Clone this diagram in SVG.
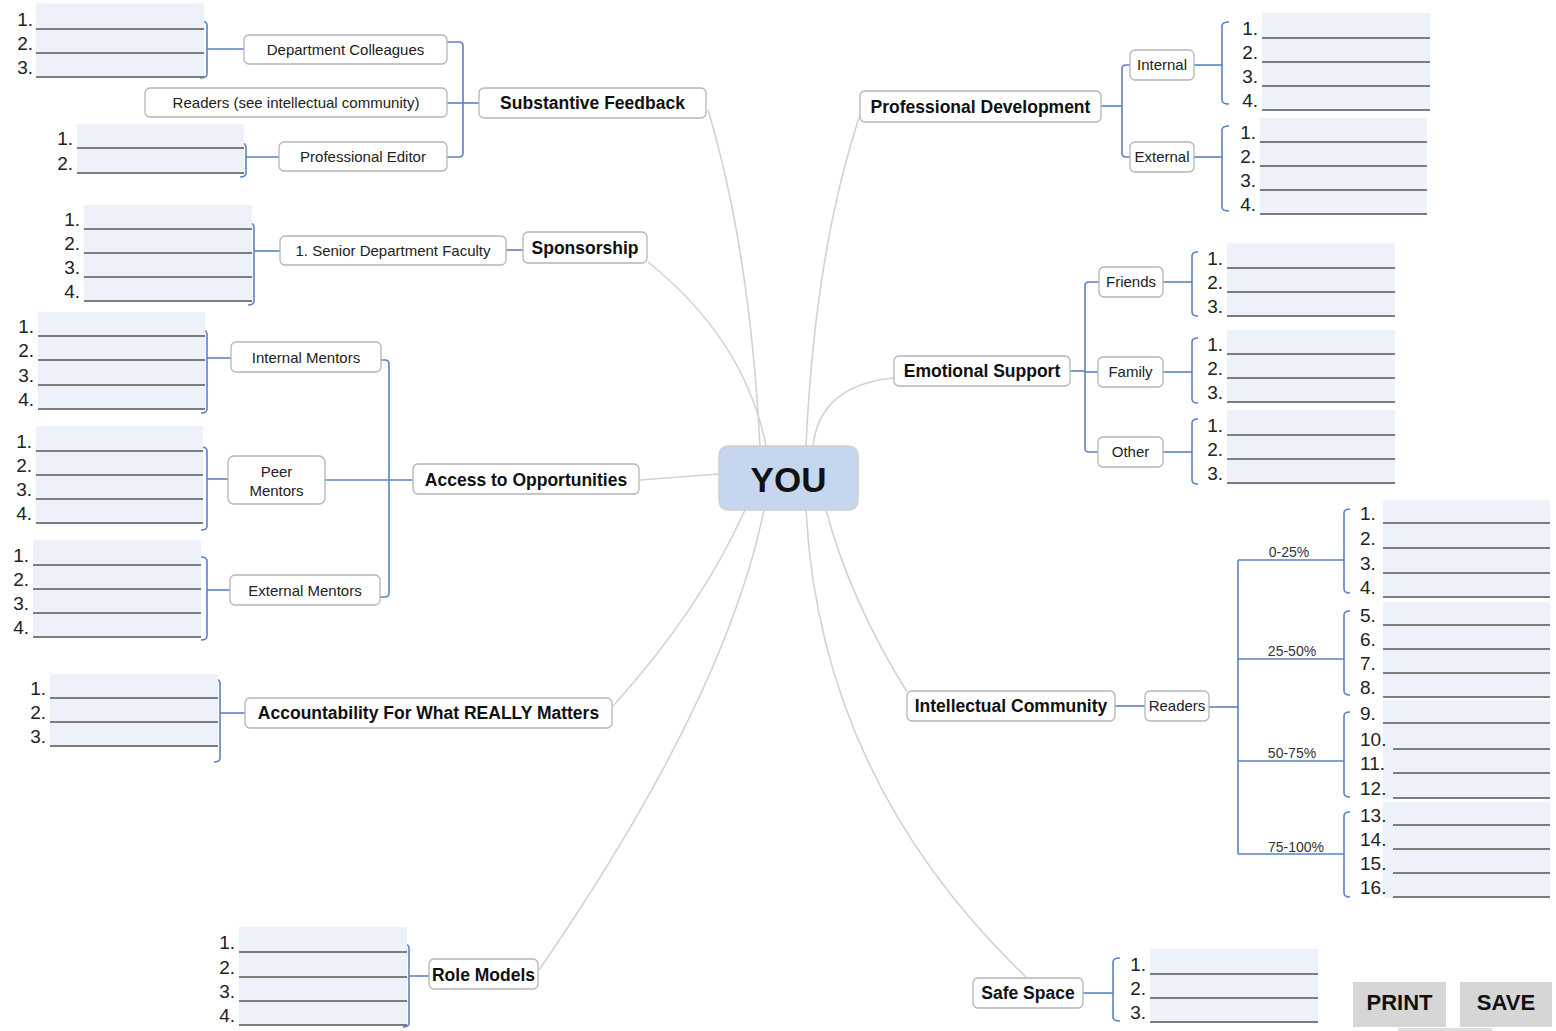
<svg xmlns="http://www.w3.org/2000/svg" width="1556" height="1031" viewBox="0 0 1556 1031">
<style>
.fill{fill:#edf1fa}
.ln{stroke:#555;stroke-width:1.3}
.num{font-family:"Liberation Sans",Arial,sans-serif;font-size:19px;fill:#222}
.ne{text-anchor:end}
.box{fill:#fff;stroke:#b5b5b5;stroke-width:1.3}
.lbl{font-family:"Liberation Sans",Arial,sans-serif;font-size:15px;fill:#222;text-anchor:middle}
.blbl{font-family:"Liberation Sans",Arial,sans-serif;font-weight:bold;font-size:17.5px;fill:#111;text-anchor:middle}
.pct{font-family:"Liberation Sans",Arial,sans-serif;font-size:14px;fill:#333;text-anchor:middle}
.bl{stroke:#5b83c2;stroke-width:1.6;fill:none}
.gr{stroke:#d2d2d2;stroke-width:1.6;fill:none}
.btn{fill:#d6d6d6}
.btxt{font-family:"Liberation Sans",Arial,sans-serif;font-weight:bold;font-size:22px;fill:#111;text-anchor:middle}
</style>

<g id="connectors">
  <!-- gray curves from YOU -->
  <path class="gr" d="M708,110 Q750,250 760,446"/>
  <path class="gr" d="M648,262 Q745,340 766,446"/>
  <path class="gr" d="M640,480 L719,474"/>
  <path class="gr" d="M613,706 Q700,610 745,510"/>
  <path class="gr" d="M539,970 Q725,700 764,510"/>
  <path class="gr" d="M860,115 Q815,250 806,446"/>
  <path class="gr" d="M894,378 Q820,385 813,446"/>
  <path class="gr" d="M907,692 Q850,600 826,510"/>
  <path class="gr" d="M1027,978 Q820,780 806,510"/>

  <!-- Substantive Feedback -->
  <path class="bl" d="M200,21 Q207,21 207,25 L207,74 Q207,78 200,78"/>
  <path class="bl" d="M207,49 L244,49"/>
  <path class="bl" d="M447,42 L459,42 Q463,42 463,46 L463,153 Q463,157 459,157 L447,157"/>
  <path class="bl" d="M447,103 L479,103"/>
  <path class="bl" d="M240,143 Q246,143 246,147 L246,173 Q246,177 240,177"/>
  <path class="bl" d="M246,157 L279,157"/>

  <!-- Sponsorship -->
  <path class="bl" d="M248,223 Q254,223 254,227 L254,301 Q254,305 248,305"/>
  <path class="bl" d="M254,251 L280,251"/>
  <path class="bl" d="M506,250 L523,250"/>

  <!-- Access to Opportunities -->
  <path class="bl" d="M201,330 Q207,330 207,334 L207,409 Q207,413 201,413"/>
  <path class="bl" d="M207,358 L231,358"/>
  <path class="bl" d="M201,447 Q207,447 207,451 L207,526 Q207,530 201,530"/>
  <path class="bl" d="M207,479 L228,479"/>
  <path class="bl" d="M201,557 Q207,557 207,561 L207,636 Q207,640 201,640"/>
  <path class="bl" d="M207,590 L230,590"/>
  <path class="bl" d="M381,360 L385,360 Q389,360 389,364 L389,593 Q389,597 385,597 L380,597"/>
  <path class="bl" d="M325,480 L413,480"/>

  <!-- Accountability -->
  <path class="bl" d="M214,679 Q220,679 220,683 L220,758 Q220,762 214,762"/>
  <path class="bl" d="M220,713 L245,713"/>

  <!-- Role Models -->
  <path class="bl" d="M403,944 Q409,944 409,948 L409,1023 Q409,1027 403,1027"/>
  <path class="bl" d="M409,976 L429,976"/>

  <!-- Professional Development -->
  <path class="bl" d="M1101,106 L1122,106"/>
  <path class="bl" d="M1130,65 L1126,65 Q1122,65 1122,69 L1122,153 Q1122,157 1126,157 L1130,157"/>
  <path class="bl" d="M1194,65 L1222,65"/>
  <path class="bl" d="M1229,22 Q1222,22 1222,26 L1222,100 Q1222,104 1229,104"/>
  <path class="bl" d="M1194,157 L1222,157"/>
  <path class="bl" d="M1229,126 Q1222,126 1222,130 L1222,207 Q1222,211 1229,211"/>

  <!-- Emotional Support -->
  <path class="bl" d="M1070,371 L1085,371"/>
  <path class="bl" d="M1099,282 L1089,282 Q1085,282 1085,286 L1085,448 Q1085,452 1089,452 L1098,452"/>
  <path class="bl" d="M1085,372 L1098,372"/>
  <path class="bl" d="M1163,282 L1192,282"/>
  <path class="bl" d="M1198,252 Q1192,252 1192,256 L1192,312 Q1192,316 1198,316"/>
  <path class="bl" d="M1163,372 L1192,372"/>
  <path class="bl" d="M1198,338 Q1192,338 1192,342 L1192,399 Q1192,403 1198,403"/>
  <path class="bl" d="M1163,452 L1192,452"/>
  <path class="bl" d="M1198,419 Q1192,419 1192,423 L1192,480 Q1192,484 1198,484"/>

  <!-- Intellectual Community -->
  <path class="bl" d="M1115,706 L1145,706"/>
  <path class="bl" d="M1209,707 L1238,707"/>
  <path class="bl" d="M1238,560 L1238,854"/>
  <path class="bl" d="M1238,560 L1344,560"/>
  <path class="bl" d="M1238,659 L1344,659"/>
  <path class="bl" d="M1238,761 L1344,761"/>
  <path class="bl" d="M1238,854 L1344,854"/>
  <path class="bl" d="M1350,509 Q1344,509 1344,513 L1344,589 Q1344,593 1350,593"/>
  <path class="bl" d="M1350,611 Q1344,611 1344,615 L1344,691 Q1344,695 1350,695"/>
  <path class="bl" d="M1350,712 Q1344,712 1344,716 L1344,793 Q1344,797 1350,797"/>
  <path class="bl" d="M1350,812 Q1344,812 1344,816 L1344,893 Q1344,897 1350,897"/>

  <!-- Safe Space -->
  <path class="bl" d="M1083,993 L1113,993"/>
  <path class="bl" d="M1120,958 Q1113,958 1113,962 L1113,1017 Q1113,1021 1120,1021"/>
</g>

<g id="you">
  <rect x="719" y="446" width="139" height="64" rx="9" fill="#c7d6ef" stroke="#d0d0d0" stroke-width="1.5"/>
  <text x="788.5" y="492" font-family="Liberation Sans, Arial, sans-serif" font-weight="bold" font-size="35" fill="#111" text-anchor="middle">YOU</text>
</g>

<!-- LEFT SIDE -->
<g id="list-dept">
  <rect class="fill" x="36" y="3" width="168" height="75"/>
  <text class="num ne" x="33" y="26">1.</text><line class="ln" x1="36" y1="29" x2="204" y2="29"/>
  <text class="num ne" x="33" y="50">2.</text><line class="ln" x1="36" y1="53" x2="204" y2="53"/>
  <text class="num ne" x="33" y="74">3.</text><line class="ln" x1="36" y1="77" x2="204" y2="77"/>
</g>
<g id="dept-colleagues"><rect class="box" x="244" y="35" width="203" height="29" rx="5"/><text class="lbl" x="345.5" y="55">Department Colleagues</text></g>
<g id="readers-see"><rect class="box" x="145" y="88" width="302" height="29" rx="5"/><text class="lbl" x="296" y="108">Readers (see intellectual community)</text></g>
<g id="prof-editor"><rect class="box" x="279" y="142" width="168" height="29" rx="5"/><text class="lbl" x="363" y="162">Professional Editor</text></g>
<g id="list-editor">
  <rect class="fill" x="77" y="124" width="167" height="50"/>
  <text class="num ne" x="73" y="145">1.</text><line class="ln" x1="77" y1="148" x2="244" y2="148"/>
  <text class="num ne" x="73" y="170">2.</text><line class="ln" x1="77" y1="173" x2="244" y2="173"/>
</g>
<g id="substantive-feedback"><rect class="box" x="479" y="88" width="227" height="30" rx="5"/><text class="blbl" x="592.5" y="109">Substantive Feedback</text></g>

<g id="list-sponsor">
  <rect class="fill" x="84" y="205" width="168" height="97"/>
  <text class="num ne" x="80" y="226">1.</text><line class="ln" x1="84" y1="229" x2="252" y2="229"/>
  <text class="num ne" x="80" y="250">2.</text><line class="ln" x1="84" y1="253" x2="252" y2="253"/>
  <text class="num ne" x="80" y="274">3.</text><line class="ln" x1="84" y1="277" x2="252" y2="277"/>
  <text class="num ne" x="80" y="298">4.</text><line class="ln" x1="84" y1="301" x2="252" y2="301"/>
</g>
<g id="senior-faculty"><rect class="box" x="280" y="236" width="226" height="29" rx="5"/><text class="lbl" x="393" y="256">1. Senior Department Faculty</text></g>
<g id="sponsorship"><rect class="box" x="523" y="232" width="124" height="31" rx="5"/><text class="blbl" x="585" y="254">Sponsorship</text></g>

<g id="list-internal-mentors">
  <rect class="fill" x="38" y="312" width="167" height="98"/>
  <text class="num ne" x="34" y="333">1.</text><line class="ln" x1="38" y1="336" x2="205" y2="336"/>
  <text class="num ne" x="34" y="357">2.</text><line class="ln" x1="38" y1="360" x2="205" y2="360"/>
  <text class="num ne" x="34" y="382">3.</text><line class="ln" x1="38" y1="385" x2="205" y2="385"/>
  <text class="num ne" x="34" y="406">4.</text><line class="ln" x1="38" y1="409" x2="205" y2="409"/>
</g>
<g id="internal-mentors"><rect class="box" x="231" y="342" width="150" height="30" rx="5"/><text class="lbl" x="306" y="363">Internal Mentors</text></g>
<g id="list-peer-mentors">
  <rect class="fill" x="36" y="426" width="167" height="98"/>
  <text class="num ne" x="32" y="448">1.</text><line class="ln" x1="36" y1="451" x2="203" y2="451"/>
  <text class="num ne" x="32" y="472">2.</text><line class="ln" x1="36" y1="475" x2="203" y2="475"/>
  <text class="num ne" x="32" y="496">3.</text><line class="ln" x1="36" y1="499" x2="203" y2="499"/>
  <text class="num ne" x="32" y="520">4.</text><line class="ln" x1="36" y1="523" x2="203" y2="523"/>
</g>
<g id="peer-mentors"><rect class="box" x="228" y="456" width="97" height="48" rx="6"/><text class="lbl" x="276.5" y="477">Peer</text><text class="lbl" x="276.5" y="496">Mentors</text></g>
<g id="list-external-mentors">
  <rect class="fill" x="33" y="540" width="168" height="98"/>
  <text class="num ne" x="29" y="562">1.</text><line class="ln" x1="33" y1="565" x2="201" y2="565"/>
  <text class="num ne" x="29" y="586">2.</text><line class="ln" x1="33" y1="589" x2="201" y2="589"/>
  <text class="num ne" x="29" y="610">3.</text><line class="ln" x1="33" y1="613" x2="201" y2="613"/>
  <text class="num ne" x="29" y="634">4.</text><line class="ln" x1="33" y1="637" x2="201" y2="637"/>
</g>
<g id="external-mentors"><rect class="box" x="230" y="575" width="150" height="30" rx="5"/><text class="lbl" x="305" y="596">External Mentors</text></g>
<g id="access-opportunities"><rect class="box" x="413" y="464" width="226" height="30" rx="5"/><text class="blbl" x="526" y="486">Access to Opportunities</text></g>

<g id="list-accountability">
  <rect class="fill" x="50" y="674" width="168" height="72"/>
  <text class="num ne" x="46" y="695">1.</text><line class="ln" x1="50" y1="698" x2="218" y2="698"/>
  <text class="num ne" x="46" y="719">2.</text><line class="ln" x1="50" y1="722" x2="218" y2="722"/>
  <text class="num ne" x="46" y="743">3.</text><line class="ln" x1="50" y1="746" x2="218" y2="746"/>
</g>
<g id="accountability"><rect class="box" x="245" y="698" width="367" height="30" rx="5"/><text class="blbl" x="428.5" y="719">Accountability For What REALLY Matters</text></g>

<g id="list-role-models">
  <rect class="fill" x="239" y="927" width="168" height="99"/>
  <text class="num ne" x="235" y="949">1.</text><line class="ln" x1="239" y1="952" x2="407" y2="952"/>
  <text class="num ne" x="235" y="974">2.</text><line class="ln" x1="239" y1="977" x2="407" y2="977"/>
  <text class="num ne" x="235" y="998">3.</text><line class="ln" x1="239" y1="1001" x2="407" y2="1001"/>
  <text class="num ne" x="235" y="1022">4.</text><line class="ln" x1="239" y1="1025" x2="407" y2="1025"/>
</g>
<g id="role-models"><rect class="box" x="429" y="959" width="109" height="30" rx="5"/><text class="blbl" x="483.5" y="981">Role Models</text></g>

<!-- RIGHT SIDE -->
<g id="professional-development"><rect class="box" x="860" y="91" width="241" height="31" rx="5"/><text class="blbl" x="980.5" y="113">Professional Development</text></g>
<g id="pd-internal"><rect class="box" x="1130" y="50" width="64" height="30" rx="5"/><text class="lbl" x="1162" y="70">Internal</text></g>
<g id="pd-external"><rect class="box" x="1130" y="142" width="64" height="30" rx="5"/><text class="lbl" x="1162" y="162">External</text></g>
<g id="list-pd-internal">
  <rect class="fill" x="1262" y="13" width="168" height="97"/>
  <text class="num ne" x="1258" y="35">1.</text><line class="ln" x1="1262" y1="38" x2="1430" y2="38"/>
  <text class="num ne" x="1258" y="59">2.</text><line class="ln" x1="1262" y1="62" x2="1430" y2="62"/>
  <text class="num ne" x="1258" y="83">3.</text><line class="ln" x1="1262" y1="86" x2="1430" y2="86"/>
  <text class="num ne" x="1258" y="107">4.</text><line class="ln" x1="1262" y1="110" x2="1430" y2="110"/>
</g>
<g id="list-pd-external">
  <rect class="fill" x="1260" y="118" width="167" height="97"/>
  <text class="num ne" x="1256" y="139">1.</text><line class="ln" x1="1260" y1="142" x2="1427" y2="142"/>
  <text class="num ne" x="1256" y="163">2.</text><line class="ln" x1="1260" y1="166" x2="1427" y2="166"/>
  <text class="num ne" x="1256" y="187">3.</text><line class="ln" x1="1260" y1="190" x2="1427" y2="190"/>
  <text class="num ne" x="1256" y="211">4.</text><line class="ln" x1="1260" y1="214" x2="1427" y2="214"/>
</g>

<g id="emotional-support"><rect class="box" x="894" y="356" width="176" height="30" rx="5"/><text class="blbl" x="982" y="377">Emotional Support</text></g>
<g id="friends"><rect class="box" x="1099" y="267" width="64" height="30" rx="5"/><text class="lbl" x="1131" y="287">Friends</text></g>
<g id="family"><rect class="box" x="1098" y="357" width="65" height="30" rx="5"/><text class="lbl" x="1130.5" y="377">Family</text></g>
<g id="other"><rect class="box" x="1098" y="437" width="65" height="30" rx="5"/><text class="lbl" x="1130.5" y="457">Other</text></g>
<g id="list-friends">
  <rect class="fill" x="1227" y="243" width="168" height="74"/>
  <text class="num ne" x="1223" y="265">1.</text><line class="ln" x1="1227" y1="268" x2="1395" y2="268"/>
  <text class="num ne" x="1223" y="289">2.</text><line class="ln" x1="1227" y1="292" x2="1395" y2="292"/>
  <text class="num ne" x="1223" y="313">3.</text><line class="ln" x1="1227" y1="316" x2="1395" y2="316"/>
</g>
<g id="list-family">
  <rect class="fill" x="1227" y="330" width="168" height="73"/>
  <text class="num ne" x="1223" y="351">1.</text><line class="ln" x1="1227" y1="354" x2="1395" y2="354"/>
  <text class="num ne" x="1223" y="375">2.</text><line class="ln" x1="1227" y1="378" x2="1395" y2="378"/>
  <text class="num ne" x="1223" y="399">3.</text><line class="ln" x1="1227" y1="402" x2="1395" y2="402"/>
</g>
<g id="list-other">
  <rect class="fill" x="1227" y="410" width="168" height="74"/>
  <text class="num ne" x="1223" y="432">1.</text><line class="ln" x1="1227" y1="435" x2="1395" y2="435"/>
  <text class="num ne" x="1223" y="456">2.</text><line class="ln" x1="1227" y1="459" x2="1395" y2="459"/>
  <text class="num ne" x="1223" y="480">3.</text><line class="ln" x1="1227" y1="483" x2="1395" y2="483"/>
</g>

<g id="intellectual-community"><rect class="box" x="907" y="691" width="208" height="30" rx="5"/><text class="blbl" x="1011" y="712">Intellectual Community</text></g>
<g id="readers"><rect class="box" x="1145" y="691" width="64" height="30" rx="5"/><text class="lbl" x="1177" y="711">Readers</text></g>
<g id="pct-labels">
  <text class="pct" x="1289" y="557">0-25%</text>
  <text class="pct" x="1292" y="656">25-50%</text>
  <text class="pct" x="1292" y="758">50-75%</text>
  <text class="pct" x="1296" y="852">75-100%</text>
</g>
<g id="list-readers">
  <rect class="fill" x="1383" y="500" width="167" height="98"/>
  <rect class="fill" x="1383" y="602" width="167" height="96"/>
  <rect class="fill" x="1383" y="700" width="167" height="99"/>
  <rect class="fill" x="1383" y="802" width="167" height="96"/>
  <text class="num" x="1360" y="520">1.</text><line class="ln" x1="1383" y1="523" x2="1550" y2="523"/>
  <text class="num" x="1360" y="545">2.</text><line class="ln" x1="1383" y1="548" x2="1550" y2="548"/>
  <text class="num" x="1360" y="570">3.</text><line class="ln" x1="1383" y1="573" x2="1550" y2="573"/>
  <text class="num" x="1360" y="594">4.</text><line class="ln" x1="1383" y1="597" x2="1550" y2="597"/>
  <text class="num" x="1360" y="622">5.</text><line class="ln" x1="1383" y1="625" x2="1550" y2="625"/>
  <text class="num" x="1360" y="646">6.</text><line class="ln" x1="1383" y1="649" x2="1550" y2="649"/>
  <text class="num" x="1360" y="670">7.</text><line class="ln" x1="1383" y1="673" x2="1550" y2="673"/>
  <text class="num" x="1360" y="694">8.</text><line class="ln" x1="1383" y1="697" x2="1550" y2="697"/>
  <text class="num" x="1360" y="720">9.</text><line class="ln" x1="1383" y1="723" x2="1550" y2="723"/>
  <text class="num" x="1360" y="746">10.</text><line class="ln" x1="1393" y1="749" x2="1550" y2="749"/>
  <text class="num" x="1360" y="770">11.</text><line class="ln" x1="1393" y1="773" x2="1550" y2="773"/>
  <text class="num" x="1360" y="795">12.</text><line class="ln" x1="1393" y1="798" x2="1550" y2="798"/>
  <text class="num" x="1360" y="822">13.</text><line class="ln" x1="1393" y1="825" x2="1550" y2="825"/>
  <text class="num" x="1360" y="846">14.</text><line class="ln" x1="1393" y1="849" x2="1550" y2="849"/>
  <text class="num" x="1360" y="870">15.</text><line class="ln" x1="1393" y1="873" x2="1550" y2="873"/>
  <text class="num" x="1360" y="894">16.</text><line class="ln" x1="1393" y1="897" x2="1550" y2="897"/>
</g>

<g id="safe-space"><rect class="box" x="973" y="978" width="110" height="30" rx="5"/><text class="blbl" x="1028" y="999">Safe Space</text></g>
<g id="list-safe-space">
  <rect class="fill" x="1150" y="949" width="168" height="74"/>
  <text class="num ne" x="1146" y="971">1.</text><line class="ln" x1="1150" y1="974" x2="1318" y2="974"/>
  <text class="num ne" x="1146" y="995">2.</text><line class="ln" x1="1150" y1="998" x2="1318" y2="998"/>
  <text class="num ne" x="1146" y="1019">3.</text><line class="ln" x1="1150" y1="1022" x2="1318" y2="1022"/>
</g>

<g id="print-button"><rect class="btn" x="1353" y="982" width="93" height="45"/><text class="btxt" x="1399.5" y="1010">PRINT</text></g>
<g id="save-button"><rect class="btn" x="1460" y="982" width="92" height="45"/><text class="btxt" x="1506" y="1010">SAVE</text></g>
<rect x="1398" y="1028" width="94" height="3" fill="#dedede"/>
</svg>
